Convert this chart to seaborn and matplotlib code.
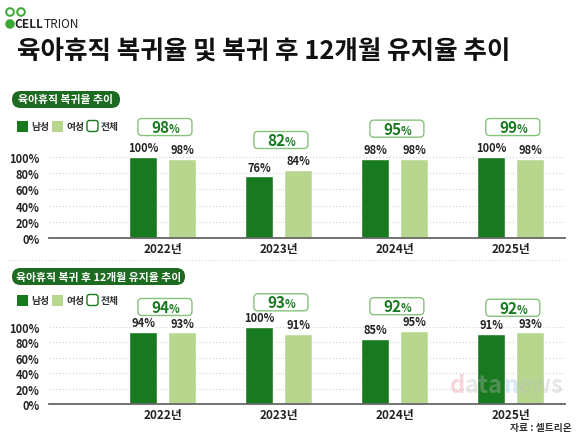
import pandas as pd
import seaborn as sns
import matplotlib.pyplot as plt
from matplotlib.patches import FancyBboxPatch, Circle
from matplotlib.transforms import ScaledTranslation

# data
years = ['2022년', '2023년', '2024년', '2025년']
return_male = [100, 76, 98, 100]
return_female = [98, 84, 98, 98]
return_total = [98, 82, 95, 99]
retain_male = [94, 100, 85, 91]
retain_female = [93, 91, 95, 93]
retain_total = [94, 93, 92, 92]
yticks = [0, 20, 40, 60, 80, 100]

DARK = '#187a1e'
LIGHT = '#b7d78f'
PILL = '#1c6b20'
BOXEDGE = '#86c27a'

sns.set_theme(style='white')
plt.rcParams['font.family'] = ['Noto Sans CJK KR', 'DejaVu Sans']
plt.rcParams['axes.unicode_minus'] = False

W, H = 580, 435
fig = plt.figure(figsize=(W / 100, H / 100), dpi=100)
fig.patch.set_facecolor('white')
INCH = fig.dpi_scale_trans


def fx(x):
    return x / W


def fy(y):
    return 1 - y / H


def make_df(male, female):
    return pd.DataFrame({
        'year': years * 2,
        'gender': ['남성'] * 4 + ['여성'] * 4,
        'value': male + female,
    })


def panel(rect, male, female, total, box_off):
    ax = fig.add_axes(rect)
    sns.barplot(data=make_df(male, female), x='year', y='value', hue='gender',
                palette=[DARK, LIGHT], width=0.672, gap=0.28, saturation=1,
                legend=False, ax=ax)
    ax.set_ylim(0, 160)
    ax.set_xlim(-0.98, 3.47)
    ax.set_xlabel('')
    ax.set_ylabel('')
    ax.set_yticks(yticks)
    ax.set_yticklabels([f'{v}%' for v in yticks], fontsize=8, fontweight='bold', color='#222222')
    ax.set_xticks(range(len(years)))
    ax.set_xticklabels(years, fontsize=8.5, fontweight='bold', color='#222222')
    ax.tick_params(axis='y', length=0, pad=7)
    ax.tick_params(axis='x', length=0, pad=3)
    for s in ['top', 'right', 'left']:
        ax.spines[s].set_visible(False)
    ax.spines['bottom'].set_color('#666666')
    ax.spines['bottom'].set_linewidth(1.3)
    ax.yaxis.grid(True, linestyle=(0, (1, 2)), color='#d0d0d0', linewidth=0.8)
    ax.set_axisbelow(True)
    ax.patch.set_alpha(0)
    for c in ax.containers:
        ax.bar_label(c, fmt='{:.0f}%', padding=2, fontsize=8, fontweight='bold', color='#222222')
    # 전체 boxes
    for i, t in enumerate(total):
        top = max(male[i], female[i]) + box_off
        tr = INCH + ScaledTranslation(i + 0.02, top, ax.transData)
        ax.add_patch(FancyBboxPatch((-0.27, -0.085), 0.54, 0.17,
                                    boxstyle='round,pad=0,rounding_size=0.04',
                                    transform=tr, facecolor='white', edgecolor=BOXEDGE,
                                    linewidth=1.0, clip_on=False, zorder=5))
        ax.annotate(str(t), xy=(i + 0.02, top), xytext=(3, 0), textcoords='offset points',
                    ha='right', va='center', fontsize=11, fontweight='bold', color=DARK, zorder=6)
        ax.annotate('%', xy=(i + 0.02, top), xytext=(3, -1), textcoords='offset points',
                    ha='left', va='center', fontsize=8, fontweight='bold', color=DARK, zorder=6)
    return ax


# top panel: baseline at 239px, 0.81 px per unit
panel([fx(49), fy(239), fx(565 - 49), 160 * 0.81 / H],
      return_male, return_female, return_total, 37)
# bottom panel: baseline at 405px, 0.77 px per unit
panel([fx(49), fy(405), fx(565 - 49), 160 * 0.77 / H],
      retain_male, retain_female, retain_total, 32)

# title
fig.text(fx(17), fy(52), '육아휴직 복귀율 및 복귀 후 12개월 유지율 추이', fontsize=18.4,
         fontweight='black', color='#111111', va='center', ha='left')

# logo
for cx, cy, fill in [(10, 13, False), (21, 13, False), (10, 25, True)]:
    fig.patches.append(Circle((cx / 100, (H - cy) / 100), 0.038, transform=INCH,
                              facecolor='#3aa935' if fill else 'white', edgecolor='#3aa935',
                              linewidth=1.4))
cell = fig.text(fx(14.5), fy(25), 'CELL', fontsize=8.5, fontweight='bold', color='#222222',
                va='center')
fig.add_artist(plt.Annotation('TRION', xy=(1, 0), xycoords=cell, va='bottom', ha='left',
                              fontsize=8.5, color='#222222'))


def pill(x0, y0, x1, y1, label):
    h = (y1 - y0) / 100
    fig.patches.append(FancyBboxPatch((x0 / 100, (H - y1) / 100), (x1 - x0) / 100, h,
                                      boxstyle=f'round,pad=0,rounding_size={h / 2}',
                                      transform=INCH, facecolor=PILL, edgecolor='none'))
    fig.text(fx((x0 + x1) / 2), fy((y0 + y1) / 2), label, fontsize=7.8, fontweight='bold',
             color='white', ha='center', va='center')


def legend(y):
    s = 0.11
    items = [(17, DARK, 'none', '남성', 'square,pad=0'),
             (52, LIGHT, 'none', '여성', 'square,pad=0'),
             (87, 'white', DARK, '전체', 'round,pad=0,rounding_size=0.025')]
    for x, fc, ec, lab, bs in items:
        fig.patches.append(FancyBboxPatch((x / 100, (H - y) / 100 - s / 2), s, s,
                                          boxstyle=bs, transform=INCH,
                                          facecolor=fc, edgecolor=ec, linewidth=1.0))
        fig.text(fx(x + 14), fy(y), lab, fontsize=7, fontweight='bold', color='#333333',
                 va='center')


pill(12, 92, 120, 109, '육아휴직 복귀율 추이')
legend(127)
pill(12, 269, 185, 286, '육아휴직 복귀 후 12개월 유지율 추이')
legend(301)

# separator
fig.add_artist(plt.Line2D([fx(8), fx(565)], [fy(261), fy(261)], transform=fig.transFigure,
                          color='#d8d4ee', linestyle=(0, (1, 2)), linewidth=0.8))

# watermark (coloured pieces chained one after another) and source
prev = fig.text(fx(450), fy(393), 'd', fontsize=17, fontweight='bold', color='#e88a92',
                va='baseline', ha='left', zorder=10, alpha=0.35)
for part, col in [('ata', '#bbbbbb'), ('n', '#8fbfe6'), ('ews', '#bbbbbb')]:
    prev = fig.add_artist(plt.Annotation(part, xy=(1, 0), xycoords=prev, va='bottom',
                                         ha='left', fontsize=17, fontweight='bold',
                                         color=col, alpha=0.35, zorder=10))
fig.text(fx(572), fy(428), '자료 : 셀트리온', fontsize=7, fontweight='bold',
         color='#333333', ha='right', va='center')

fig.savefig('out.png', dpi=100, facecolor='white')
